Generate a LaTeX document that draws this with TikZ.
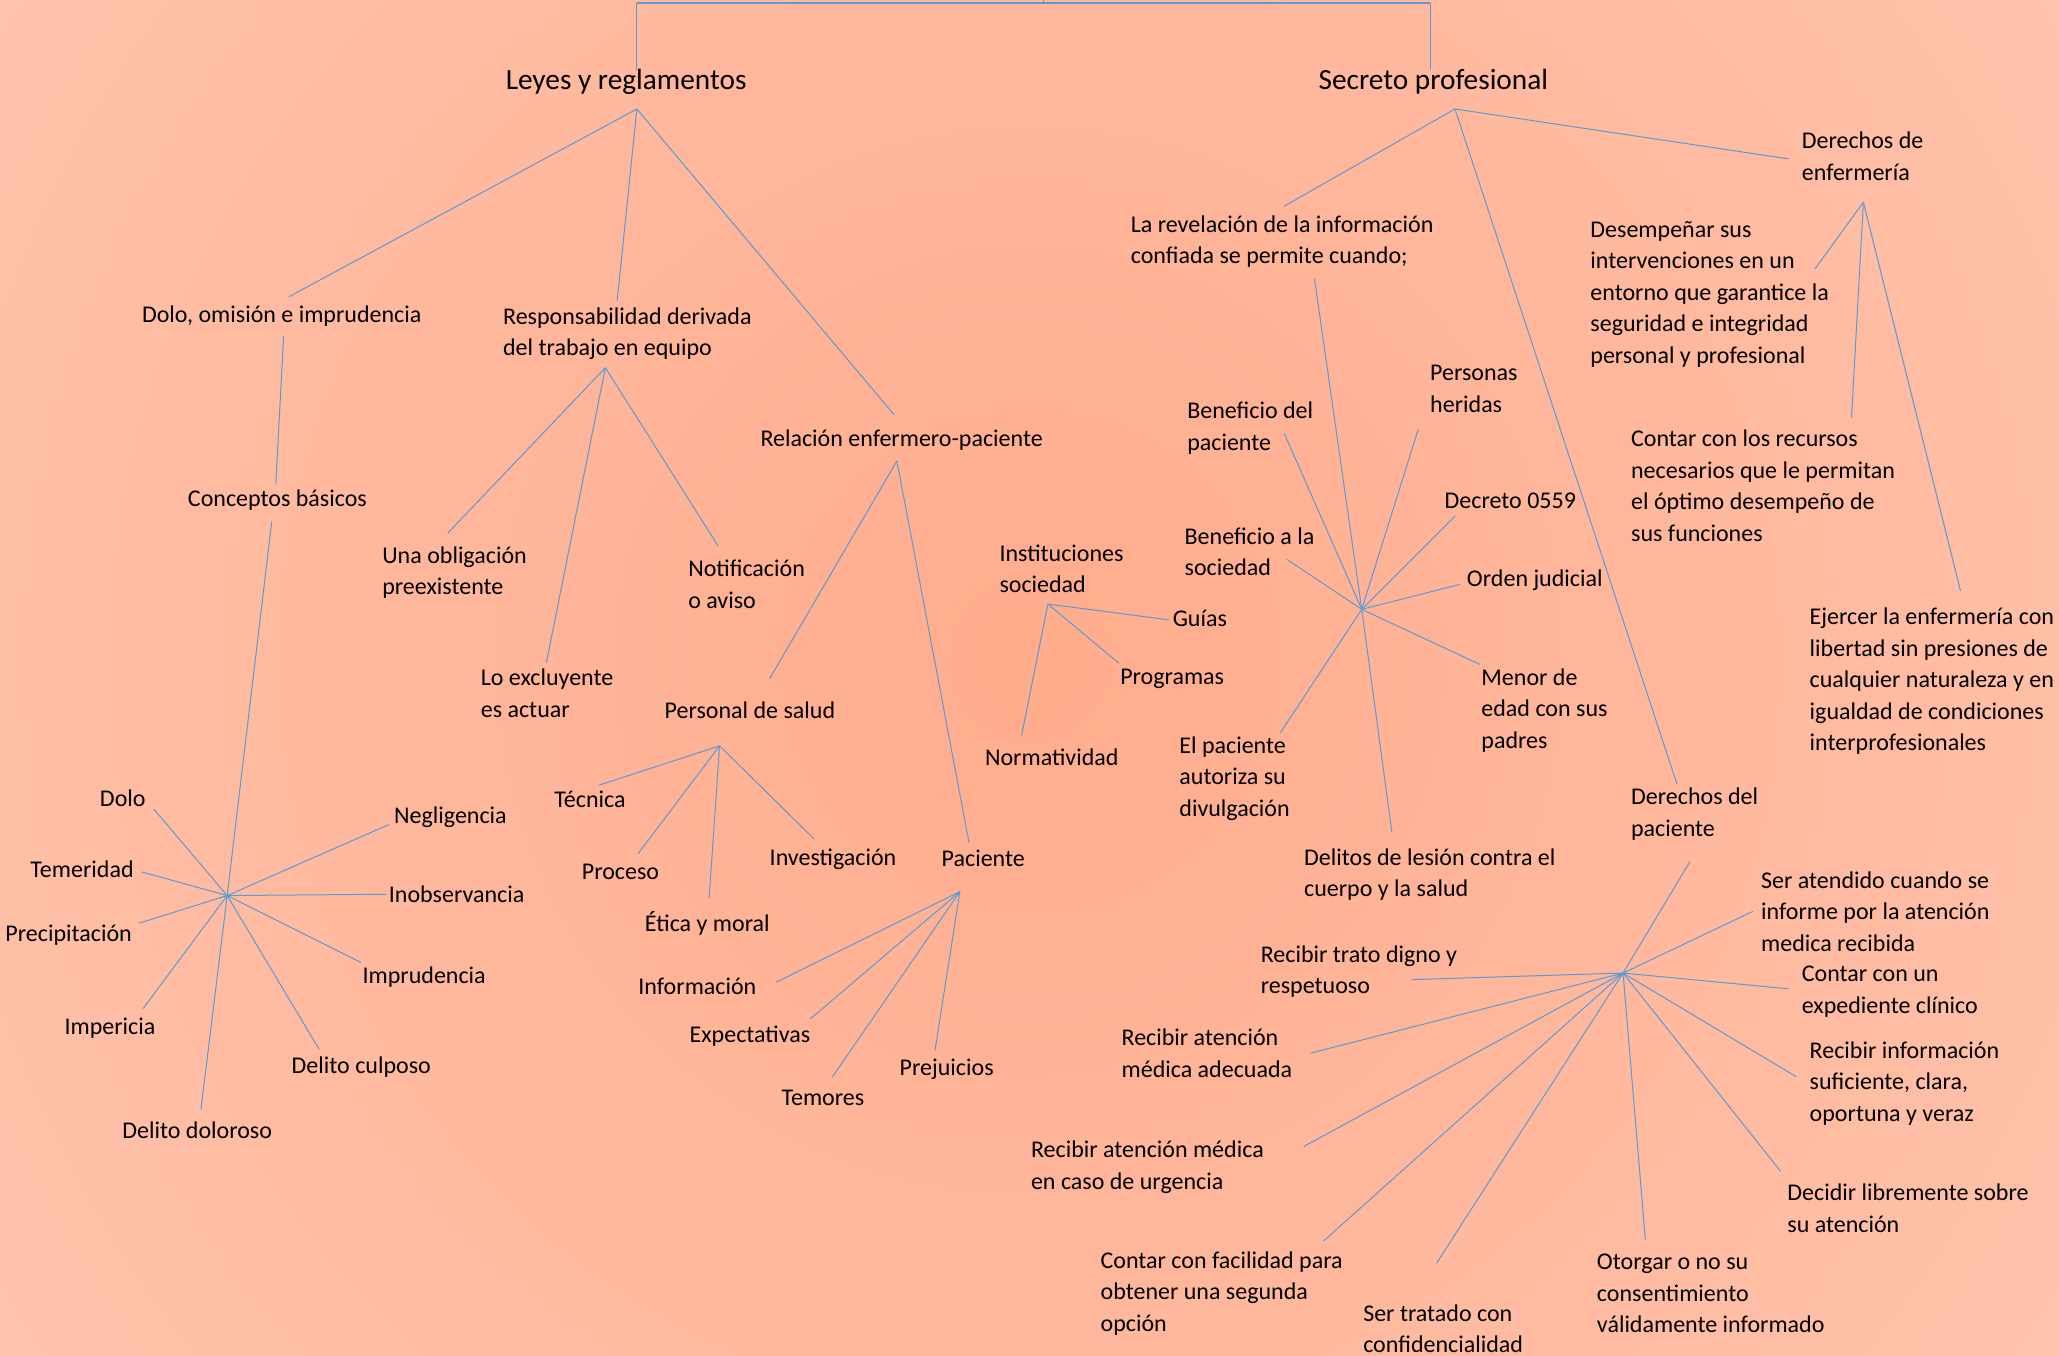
\documentclass[tikz,border=0pt]{standalone}
\usepackage{fontspec}
\setmainfont{Carlito}
\definecolor{lnblue}{HTML}{5B9BD5}
\definecolor{bgA}{HTML}{FFAC8C}
\definecolor{bgB}{HTML}{FFC4AE}
\definecolor{bgC}{HTML}{FFD7C9}
\definecolor{bgD}{HTML}{FFDED3}
\pgfdeclareradialshading{bgshade}{\pgfpoint{0bp}{0bp}}{color(0bp)=(bgA); color(25bp)=(bgB); color(38bp)=(bgC); color(46bp)=(bgD); color(50bp)=(bgD)}
\begin{document}
\begin{tikzpicture}[x=1.3131pt,y=-1.3131pt,
  ln/.style={draw=lnblue,line width=1pt},
  lbl/.style={font=\fontsize{24}{31.5}\selectfont,align=left,inner sep=0pt,anchor=west,text=black},
  ttl/.style={font=\fontsize{29.3}{36}\selectfont,inner sep=0pt,anchor=west,text=black}]
\useasboundingbox (0,0) rectangle (1568,1032);
\begin{scope}
\clip (0,0) rectangle (1568,1032);
\shade[shading=bgshade] (784,503) circle (1020);
\end{scope}

% titles
\node[ttl] (leyes) at (385,62) {Leyes y reglamentos};
\node[ttl] (secreto) at (1004,62) {Secreto profesional};

% top connector
\coordinate (tl) at (485,2);
\coordinate (tr) at (1089,2);
\coordinate (tm) at (795,2);
\coordinate (tt) at (795,-2);
\coordinate (lv) at (485,53);
\coordinate (rv) at (1089,53);
\draw[ln,line width=2pt] (tl) -- (tr);
\draw[ln] (tm) -- (tt);
\draw[ln] (tl) -- (lv);
\draw[ln] (tr) -- (rv);

% left labels
\node[lbl] (dolomi) at (108,241) {Dolo, omisión e imprudencia};
\node[lbl] (resp) at (383,254) {Responsabilidad derivada\\del trabajo en equipo};
\node[lbl] (rel) at (579,335) {Relación enfermero-paciente};
\node[lbl] (concep) at (143,381) {Conceptos básicos};
\node[lbl] (dolo) at (76,608) {Dolo};
\node[lbl] (temer) at (23,662) {Temeridad};
\node[lbl] (precip) at (4,712) {Precipitación};
\node[lbl] (imper) at (49,783) {Impericia};
\node[lbl] (deldol) at (93,861) {Delito doloroso};
\node[lbl] (delcul) at (222,813) {Delito culposo};
\node[lbl] (impru) at (276,744) {Imprudencia};
\node[lbl] (inobs) at (296,681) {Inobservancia};
\node[lbl] (negli) at (300,622) {Negligencia};
\node[lbl] (oblig) at (291,436) {Una obligación\\preexistente};
\node[lbl] (excl) at (366,528) {Lo excluyente\\es actuar};
\node[lbl] (notif) at (524,445) {Notificación\\o aviso};
\node[lbl] (pers) at (506,541) {Personal de salud};
\node[lbl] (pac) at (717,654) {Paciente};
\node[lbl] (tec) at (422,609) {Técnica};
\node[lbl] (proc) at (443,664) {Proceso};
\node[lbl] (etica) at (491,703) {Ética y moral};
\node[lbl] (inv) at (586,654) {Investigación};
\node[lbl] (info) at (486,751) {Información};
\node[lbl] (expec) at (525,789) {Expectativas};
\node[lbl] (temo) at (595,836) {Temores};
\node[lbl] (prej) at (685,814) {Prejuicios};
\node[lbl] (inst) at (761,433) {Instituciones\\sociedad};
\node[lbl] (guias) at (893,471) {Guías};
\node[lbl] (prog) at (853,517) {Programas};
\node[lbl] (norm) at (750,577) {Normatividad};

% right labels
\node[lbl] (rev) at (861,184) {La revelación de la información\\confiada se permite cuando;};
\node[lbl] (benpac) at (904,326) {Beneficio del\\paciente};
\node[lbl] (herid) at (1089,296) {Personas\\heridas};
\node[lbl] (decr) at (1100,381) {Decreto 0559};
\node[lbl] (bensoc) at (902,420) {Beneficio a la\\sociedad};
\node[lbl] (orden) at (1117,442) {Orden judicial};
\node[lbl] (menor) at (1128,541) {Menor de\\edad con sus\\padres};
\node[lbl] (autor) at (898,593) {El paciente\\autoriza su\\divulgación};
\node[lbl] (delit) at (993,666) {Delitos de lesión contra el\\cuerpo y la salud};
\node[lbl] (denf) at (1372,119) {Derechos de\\enfermería};
\node[lbl] (desem) at (1211,224) {Desempeñar sus\\intervenciones en un\\entorno que garantice la\\seguridad e integridad\\personal y profesional};
\node[lbl] (recur) at (1242,370) {Contar con los recursos\\necesarios que le permitan\\el óptimo desempeño de\\sus funciones};
\node[lbl] (ejer) at (1378,519) {Ejercer la enfermería con\\libertad sin presiones de\\cualquier naturaleza y en\\igualdad de condiciones\\interprofesionales};
\node[lbl] (dpac) at (1242,620) {Derechos del\\paciente};
\node[lbl] (atend) at (1341,694) {Ser atendido cuando se\\informe por la atención\\medica recibida};
\node[lbl] (exped) at (1372,755) {Contar con un\\expediente clínico};
\node[lbl] (rinfo) at (1378,825) {Recibir información\\suficiente, clara,\\oportuna y veraz};
\node[lbl] (decid) at (1361,920) {Decidir libremente sobre\\su atención};
\node[lbl] (otorg) at (1216,985) {Otorgar o no su\\consentimiento\\válidamente informado};
\node[lbl] (trat) at (1038,1012) {Ser tratado con\\confidencialidad};
\node[lbl] (facil) at (838,985) {Contar con facilidad para\\obtener una segunda\\opción};
\node[lbl] (urg) at (785,889) {Recibir atención médica\\en caso de urgencia};
\node[lbl] (adec) at (854,802) {Recibir atención\\médica adecuada};
\node[lbl] (digno) at (960,740) {Recibir trato digno y\\respetuoso};

% hubs / apexes
\coordinate (la) at (485,83);
\coordinate (sa) at (1108,83);
\coordinate (hubC) at (173,682);
\coordinate (hubR) at (461,280);
\coordinate (hubE) at (683,351);
\coordinate (hubP) at (548,568);
\coordinate (hubQ) at (731,679);
\coordinate (hubI) at (798,460);
\coordinate (hubV) at (1037,464);
\coordinate (hubF) at (1419,154);
\coordinate (hubD) at (1236,741);

% Leyes branches
\foreach \x/\y [count=\i] in {220/226,470/229,681/316}
  {\coordinate (la\i) at (\x,\y); \draw[ln] (la) -- (la\i);}
\coordinate (d1) at (216,256);
\coordinate (d2) at (210,369);
\draw[ln] (d1) -- (d2);
\coordinate (c1) at (207,397);
\draw[ln] (c1) -- (hubC);
\foreach \x/\y [count=\i] in {117/616,108/664,106/703,109/768,153/845,243/799,275/733,294/681,296/628}
  {\coordinate (hc\i) at (\x,\y); \draw[ln] (hubC) -- (hc\i);}
\foreach \x/\y [count=\i] in {341/406,416/505,547/416}
  {\coordinate (hr\i) at (\x,\y); \draw[ln] (hubR) -- (hr\i);}
\foreach \x/\y [count=\i] in {586/517,738/642}
  {\coordinate (he\i) at (\x,\y); \draw[ln] (hubE) -- (he\i);}
\foreach \x/\y [count=\i] in {456/598,486/650,540/684,620/639}
  {\coordinate (hp\i) at (\x,\y); \draw[ln] (hubP) -- (hp\i);}
\foreach \x/\y [count=\i] in {591/748,617/776,634/820,712/800}
  {\coordinate (hq\i) at (\x,\y); \draw[ln] (hubQ) -- (hq\i);}
\foreach \x/\y [count=\i] in {890/472,852/505,778/560}
  {\coordinate (hi\i) at (\x,\y); \draw[ln] (hubI) -- (hi\i);}

% Secreto branches
\foreach \x/\y [count=\i] in {978/157,1277/597,1362/121}
  {\coordinate (sa\i) at (\x,\y); \draw[ln] (sa) -- (sa\i);}
\coordinate (v0) at (1001,212);
\draw[ln] (v0) -- (hubV);
\foreach \x/\y [count=\i] in {978/330,1080/327,1108/393,980/426,1112/445,1127/506,975/558,1060/634}
  {\coordinate (hv\i) at (\x,\y); \draw[ln] (hubV) -- (hv\i);}
\foreach \x/\y [count=\i] in {1382/205,1410/318,1493/450}
  {\coordinate (hf\i) at (\x,\y); \draw[ln] (hubF) -- (hf\i);}
\coordinate (p0) at (1287,656);
\draw[ln] (p0) -- (hubD);
\foreach \x/\y [count=\i] in {1335/694,1362/753,1368/820,1356/892,1253/944,1094/962,1008/945,993/873,998/802,1075/746}
  {\coordinate (hd\i) at (\x,\y); \draw[ln] (hubD) -- (hd\i);}
\end{tikzpicture}
\end{document}
